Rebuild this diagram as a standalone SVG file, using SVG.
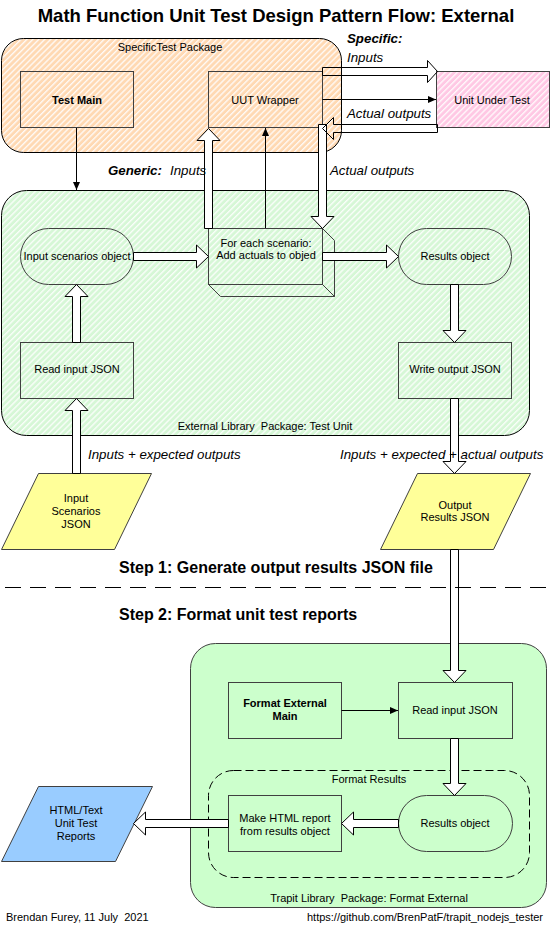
<svg xmlns="http://www.w3.org/2000/svg" width="550" height="925" viewBox="0 0 550 925">
<style>
text{font-family:"Liberation Sans",Arial,sans-serif;fill:#000;white-space:pre}
.t{font-size:11px;text-anchor:middle}
.b{font-weight:bold}
.lab{font-size:13.3px;font-style:italic}
.box{stroke:#404040;stroke-width:1}
.blk{fill:#fff;stroke:#000;stroke-width:1}
.blkn{fill:none;stroke:#000;stroke-width:1}
.thin{fill:none;stroke:#000;stroke-width:1;marker-end:url(#ah)}
</style>
<defs>
<pattern id="hO" width="4.2" height="4.2" patternUnits="userSpaceOnUse" patternTransform="rotate(45)"><rect width="4.2" height="4.2" fill="#FFD9B3"/><line x1="0.7" y1="0" x2="0.7" y2="4.2" stroke="#fff" stroke-width="1.2"/></pattern>
<pattern id="hP" width="4.2" height="4.2" patternUnits="userSpaceOnUse" patternTransform="rotate(45)"><rect width="4.2" height="4.2" fill="#FFC8E4"/><line x1="0.7" y1="0" x2="0.7" y2="4.2" stroke="#fff" stroke-width="1.2"/></pattern>
<pattern id="hG" width="4.2" height="4.2" patternUnits="userSpaceOnUse" patternTransform="rotate(45)"><rect width="4.2" height="4.2" fill="#D6F7D6"/><line x1="0.7" y1="0" x2="0.7" y2="4.2" stroke="#fff" stroke-width="1.2"/></pattern>
<marker id="ah" markerWidth="8" markerHeight="7" refX="8" refY="3.5" orient="auto" markerUnits="userSpaceOnUse"><path d="M0,0 L8,3.5 L0,7 z" fill="#000"/></marker>
</defs>
<rect width="550" height="925" fill="#fff"/>
<text x="276" y="22" font-size="18.5" class="b" text-anchor="middle">Math Function Unit Test Design Pattern Flow: External</text>

<g id="pkg-specific">
<rect x="1.5" y="38.5" width="340" height="114" rx="22" fill="url(#hO)" stroke="#000"/>
<text class="t" x="170" y="51">SpecificTest Package</text>
</g>
<g id="pkg-external">
<rect x="1.5" y="190.5" width="528" height="245" rx="25" fill="url(#hG)" stroke="#000"/>
<text class="t" x="265" y="430">External Library  Package: Test Unit</text>
</g>
<g id="pkg-format">
<rect x="190.5" y="643.5" width="356" height="264" rx="25" fill="#CCFFCC" stroke="#404040"/>
<text class="t" x="369" y="902">Trapit Library  Package: Format External</text>
</g>
<g id="grp-format-results">
<rect x="208.5" y="770.5" width="321" height="107" rx="25" fill="none" stroke="#000" stroke-dasharray="8,4"/>
<text class="t" x="369" y="783">Format Results</text>
</g>

<g id="test-main">
<rect class="box" x="20.5" y="71.5" width="113" height="56" fill="url(#hO)"/>
<text class="t b" x="77" y="104">Test Main</text>
</g>
<g id="uut-wrapper">
<rect class="box" x="208.5" y="71.5" width="114" height="56" fill="url(#hO)"/>
<text class="t" x="265" y="104">UUT Wrapper</text>
</g>
<g id="unit-under-test">
<rect class="box" x="436.5" y="71.5" width="113" height="56" fill="url(#hP)"/>
<text class="t" x="492" y="104">Unit Under Test</text>
</g>
<g id="input-scenarios-object">
<rect class="box" x="20.5" y="228.5" width="113" height="56" rx="28" fill="url(#hG)"/>
<text class="t" x="77" y="260">Input scenarios object</text>
</g>
<g id="for-each-scenario">
<polygon class="box" points="322.5,228.5 334.5,240.5 334.5,296.5 322.5,284.5" fill="url(#hG)"/>
<polygon class="box" points="208.5,284.5 220.5,296.5 334.5,296.5 322.5,284.5" fill="url(#hG)"/>
<rect class="box" x="208.5" y="228.5" width="114" height="56" fill="url(#hG)"/>
<text class="t" x="266" y="247">For each scenario:</text>
<text class="t" x="266" y="259">Add actuals to objed</text>
</g>
<g id="results-object">
<rect class="box" x="398.5" y="228.5" width="113" height="56" rx="28" fill="url(#hG)"/>
<text class="t" x="455" y="260">Results object</text>
</g>
<g id="read-input-json">
<rect class="box" x="20.5" y="342.5" width="113" height="56" fill="url(#hG)"/>
<text class="t" x="77" y="373">Read input JSON</text>
</g>
<g id="write-output-json">
<rect class="box" x="398.5" y="342.5" width="113" height="56" fill="url(#hG)"/>
<text class="t" x="455" y="373">Write output JSON</text>
</g>
<g id="input-scenarios-json">
<polygon class="box" points="38.5,473.5 151.5,473.5 114.5,549.5 1.5,549.5" fill="#FFFF99"/>
<text class="t" x="76" y="502">Input</text>
<text class="t" x="76" y="515">Scenarios</text>
<text class="t" x="76" y="528">JSON</text>
</g>
<g id="output-results-json">
<polygon class="box" points="417.5,473.5 530.5,473.5 493.5,549.5 380.5,549.5" fill="#FFFF99"/>
<text class="t" x="455" y="509">Output</text>
<text class="t" x="455" y="521">Results JSON</text>
</g>
<g id="format-external-main">
<rect class="box" x="228.5" y="682.5" width="113" height="56" fill="#CCFFCC"/>
<text class="t b" x="285" y="707">Format External</text>
<text class="t b" x="285" y="720">Main</text>
</g>
<g id="read-input-json-2">
<rect class="box" x="398.5" y="682.5" width="114" height="56" fill="#CCFFCC"/>
<text class="t" x="455" y="714">Read input JSON</text>
</g>
<g id="make-html-report">
<rect class="box" x="228.5" y="795.5" width="113" height="56" fill="#CCFFCC"/>
<text class="t" x="285" y="822">Make HTML report</text>
<text class="t" x="285" y="835">from results object</text>
</g>
<g id="results-object-2">
<rect class="box" x="398.5" y="795.5" width="114" height="56" rx="28" fill="#CCFFCC"/>
<text class="t" x="455" y="827">Results object</text>
</g>
<g id="html-reports">
<polygon class="box" points="38.5,786.5 152.5,786.5 115.5,861.5 1.5,861.5" fill="#99CCFF"/>
<text class="t" x="76" y="814">HTML/Text</text>
<text class="t" x="76" y="827">Unit Test</text>
<text class="t" x="76" y="840">Reports</text>
</g>

<g id="connectors">
<path class="thin" d="M76.5,128 V190"/>
<path class="thin" d="M265.5,228 V128"/>
<path class="thin" d="M322.5,99.5 H436"/>
<path class="thin" d="M341.5,710.5 H398"/>
<polygon class="blk" points="318.5,124.5 326.5,124.5 326.5,216.5 334,216.5 322.5,228.5 311,216.5 318.5,216.5"/>
<polygon class="blkn" points="322.5,67.5 427.5,67.5 427.5,60.5 437.5,71.5 427.5,82.5 427.5,75.5 322.5,75.5"/>
<polygon class="blkn" points="437.5,124.5 333.5,124.5 333.5,117.5 322.5,128.5 333.5,139.5 333.5,132.5 437.5,132.5"/>
<polygon class="blk" points="204.5,228.5 204.5,140.5 197,140.5 208.5,128.5 220,140.5 212.5,140.5 212.5,228.5"/>
<polygon class="blk" points="72.5,342.5 72.5,296.5 65,296.5 76.5,284.5 88,296.5 80.5,296.5 80.5,342.5"/>
<polygon class="blk" points="72.5,473.5 72.5,410.5 65,410.5 76.5,398.5 88,410.5 80.5,410.5 80.5,473.5"/>
<polygon class="blk" points="133.5,252.5 196.5,252.5 196.5,245 208.5,256.5 196.5,268 196.5,260.5 133.5,260.5"/>
<polygon class="blk" points="322.5,252.5 386.5,252.5 386.5,245 398.5,256.5 386.5,268 386.5,260.5 322.5,260.5"/>
<polygon class="blk" points="450.5,284.5 458.5,284.5 458.5,330.5 466,330.5 454.5,342.5 443,330.5 450.5,330.5"/>
<polygon class="blk" points="450.5,398.5 458.5,398.5 458.5,461.5 466,461.5 454.5,473.5 443,461.5 450.5,461.5"/>
<polygon class="blk" points="450.5,549.5 458.5,549.5 458.5,670.5 466,670.5 454.5,682.5 443,670.5 450.5,670.5"/>
<polygon class="blk" points="450.5,738.5 458.5,738.5 458.5,783.5 466,783.5 454.5,795.5 443,783.5 450.5,783.5"/>
<polygon class="blk" points="398.5,819.5 353.5,819.5 353.5,812 341.5,823.5 353.5,835 353.5,827.5 398.5,827.5"/>
<polygon class="blk" points="228.5,819.5 145.5,819.5 145.5,812 133.5,823.5 145.5,835 145.5,827.5 228.5,827.5"/>
</g>

<text x="347" y="43" class="b lab">Specific:</text>
<text x="347" y="62" class="lab">Inputs</text>
<text x="347" y="118" class="lab">Actual outputs</text>
<text x="108" y="175" class="b lab">Generic:</text>
<text x="170" y="175" class="lab">Inputs</text>
<text x="330" y="175" class="lab">Actual outputs</text>
<text x="88" y="459" class="lab">Inputs + expected outputs</text>
<text x="340" y="459" class="lab">Inputs + expected + actual outputs</text>

<text x="119" y="573" font-size="16" class="b">Step 1: Generate output results JSON file</text>
<line x1="5" y1="587.5" x2="550" y2="587.5" stroke="#000" stroke-dasharray="16,9"/>
<text x="119" y="620" font-size="16" class="b">Step 2: Format unit test reports</text>

<text x="6" y="921" font-size="11">Brendan Furey, 11 July  2021</text>
<text x="543" y="921" font-size="11" text-anchor="end">https://github.com/BrenPatF/trapit_nodejs_tester</text>
</svg>
